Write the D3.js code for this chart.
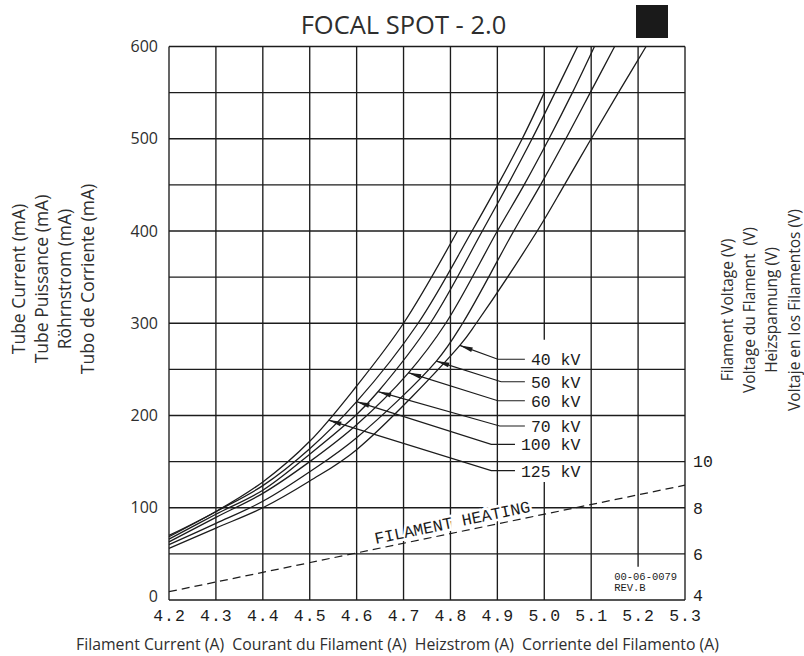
<!DOCTYPE html>
<html>
<head>
<meta charset="utf-8">
<script src="https://cdn.jsdelivr.net/npm/d3@7"></script>
<style>
  body { margin: 0; background: #fff; }
  svg { display: block; }
</style>
</head>
<body>
<div id="chart"></div>
<script>
// tube current curves, filament current (A) -> tube current (mA)
const amps125 = [4.2, 4.3, 4.4, 4.5, 4.6, 4.7, 4.815];
const ma125   = [70, 96, 128, 172, 232, 300, 400];
const amps100 = [4.2, 4.3, 4.4, 4.5, 4.6, 4.731, 4.846, 4.901, 4.953, 5.0];
const ma100   = [68.6, 95.7, 124, 164, 215, 300, 400, 450, 500, 550];
const amps70  = [4.2, 4.3, 4.4, 4.5, 4.6, 4.646, 4.757, 4.868, 4.922, 4.974, 5.023, 5.071];
const ma70    = [66, 93, 119, 158, 201, 226, 300, 400, 450, 500, 550, 600];
const amps60  = [4.2, 4.3, 4.4, 4.5, 4.6, 4.71, 4.79, 4.9, 4.957, 5.01, 5.06, 5.107];
const ma60    = [63, 89.6, 115.6, 150, 190, 246, 300, 400, 450, 500, 550, 600];
const amps50  = [4.2, 4.3, 4.4, 4.5, 4.6, 4.77, 4.826, 4.935, 4.992, 5.046, 5.098, 5.15];
const ma50    = [60, 83, 107, 139, 176, 259, 300, 400, 450, 500, 550, 600];
const amps40  = [4.2, 4.3, 4.4, 4.5, 4.6, 4.82, 4.855, 4.985, 5.043, 5.1, 5.158, 5.217];
const ma40    = [56, 78, 100, 129, 163, 276, 300, 400, 450, 500, 550, 600];

// filament heating (dashed), filament current (A) -> filament voltage (V)
const filAmps  = [4.2, 5.3];
const filVolts = [4.36, 8.98];

// leader arrows: tip on the curve, elbow, then horizontal to the label
const kvLabels = ["40 kV", "50 kV", "60 kV", "70 kV", "100 kV", "125 kV"];
const tipA     = [4.82, 4.77, 4.71, 4.646, 4.6, 4.54];
const tipMA    = [276, 259, 246.4, 225.8, 215, 195];
const elbowA   = [4.901, 4.908, 4.901, 4.905, 4.887, 4.887];
const elbowMA  = [261, 236.6, 216, 188.6, 168.8, 140.2];
const labelEndA = 5.077;

// axes
const currentTicks = [4.2, 4.3, 4.4, 4.5, 4.6, 4.7, 4.8, 4.9, 5.0, 5.1, 5.2, 5.3];
const maGrid   = [0, 50, 100, 150, 200, 250, 300, 350, 400, 450, 500, 550, 600];
const maLabels = [0, 100, 200, 300, 400, 500, 600];
const voltTicks = [4, 6, 8, 10];
// vertical grid lines broken for the labels (A, from mA, to mA)
const gapA  = [5.0, 5.2];
const gapLo = [128, 0];
const gapHi = [282, 36];

const leftTitle  = ["Tube Current (mA)", "Tube Puissance (mA)", "Röhrnstrom (mA)", "Tubo de Corriente (mA)"];
const rightTitle = ["Filament Voltage (V)", "Voltage du Flament  (V)", "Heizspannung (V)", "Voltaje en los Filamentos (V)"];
const bottomTitle = "Filament Current (A)  Courant du Filament (A)  Heizstrom (A)  Corriente del Filamento (A)";

const W = 804, H = 656;
const ink = "#1c1c1c";
const grey = "#2e2e2e";
const cad = "'Liberation Mono', 'DejaVu Sans Mono', monospace";
const sans = "'Open Sans', 'Noto Sans', sans-serif";

const svg = d3.select("#chart").append("svg").attr("width", W).attr("height", H);

const x = d3.scaleLinear().domain([4.2, 5.3]).range([169, 685]);
const y = d3.scaleLinear().domain([0, 600]).range([600, 46.5]);
const yV = d3.scaleLinear().domain([4, 10]).range([y(0), y(150)]);

// title + blacked out box
svg.append("text").attr("x", 403.5).attr("y", 34).attr("text-anchor", "middle")
  .style("font-family", sans).style("font-size", "25.5px").style("fill", grey)
  .text("FOCAL SPOT - 2.0");
svg.append("rect").attr("x", 636).attr("y", 5).attr("width", 32).attr("height", 33).attr("fill", "#1a1a1a");

// grid
const grid = svg.append("g").attr("stroke", ink).attr("stroke-width", 1.35).attr("fill", "none");
grid.selectAll("line.h").data(maGrid).enter().append("line")
  .attr("x1", x(4.2)).attr("x2", x(5.3))
  .attr("y1", d => y(d)).attr("y2", d => y(d));
currentTicks.forEach(function(a){
  let k = gapA.findIndex(g => Math.abs(g - a) < 1e-6);
  if (k < 0) {
    grid.append("line").attr("x1", x(a)).attr("x2", x(a)).attr("y1", y(0)).attr("y2", y(600));
  } else {
    if (gapLo[k] > 0)
      grid.append("line").attr("x1", x(a)).attr("x2", x(a)).attr("y1", y(0)).attr("y2", y(gapLo[k]));
    grid.append("line").attr("x1", x(a)).attr("x2", x(a)).attr("y1", y(gapHi[k])).attr("y2", y(600));
  }
});

// axis labels
const axL = svg.append("g").attr("transform", "translate(" + x(4.2) + ",0)")
  .call(d3.axisLeft(y).tickValues(maLabels).tickSize(0).tickPadding(11));
axL.select(".domain").remove();
axL.selectAll("text").style("font-family", sans).style("font-size", "16px").style("fill", grey)
  .attr("dy", d => d === 0 ? "0.1em" : "0.32em");

const axB = svg.append("g").attr("transform", "translate(0," + y(0) + ")")
  .call(d3.axisBottom(x).tickValues(currentTicks).tickFormat(d3.format(".1f")).tickSize(0));
axB.select(".domain").remove();
axB.selectAll("text").attr("y", 9.5).style("font-family", cad).style("font-size", "16.5px")
  .style("letter-spacing", "1px").style("fill", ink);

const axR = svg.append("g").attr("transform", "translate(" + x(5.3) + ",0)")
  .call(d3.axisRight(yV).tickValues(voltTicks).tickFormat(d3.format("d")).tickSize(0).tickPadding(8));
axR.select(".domain").remove();
axR.selectAll("text").style("font-family", cad).style("font-size", "16.5px").style("fill", ink)
  .attr("dy", d => d === 4 ? "0.05em" : "0.32em");

// axis titles
const lcx = [19, 42, 65, 88];
leftTitle.forEach(function(t, i){
  svg.append("text").attr("transform", "translate(" + lcx[i] + ",279) rotate(-90)")
    .attr("text-anchor", "middle").attr("dy", "0.35em")
    .style("font-family", sans).style("font-size", "17.5px").style("fill", grey).text(t);
});
const rcx = [728, 750, 772, 795];
rightTitle.forEach(function(t, i){
  svg.append("text").attr("transform", "translate(" + rcx[i] + ",310) rotate(-90)")
    .attr("text-anchor", "middle").attr("dy", "0.35em").style("white-space", "pre")
    .style("font-family", sans).style("font-size", "15.5px").style("fill", grey).text(t);
});
svg.append("text").attr("x", 397.5).attr("y", 650).attr("text-anchor", "middle")
  .style("white-space", "pre").style("font-family", sans).style("font-size", "15.8px")
  .style("fill", grey).text(bottomTitle);

// filament heating text, laid along the dashed line
const lineV = d3.scaleLinear().domain(filAmps).range(filVolts);
const ang = Math.atan2(yV(filVolts[1]) - yV(filVolts[0]), x(filAmps[1]) - x(filAmps[0])) * 180 / Math.PI;
svg.append("text")
  .attr("transform", "translate(" + x(4.643) + "," + yV(lineV(4.643)) + ") rotate(" + ang + ")")
  .attr("dy", -5)
  .style("font-family", cad).style("font-size", "16.5px").style("fill", ink)
  .attr("stroke", "#fff").attr("stroke-width", 5).attr("paint-order", "stroke")
  .text("FILAMENT HEATING");

svg.append("path")
  .datum(d3.zip(filAmps, filVolts))
  .attr("d", d3.line().x(d => x(d[0])).y(d => yV(d[1])))
  .attr("fill", "none").attr("stroke", ink).attr("stroke-width", 1.2).attr("stroke-dasharray", "8,5");

// drawing number stamp
svg.append("text").attr("x", x(5.149)).attr("y", y(21.7))
  .style("font-family", cad).style("font-size", "10.5px").style("fill", ink).text("00-06-0079");
svg.append("text").attr("x", x(5.149)).attr("y", y(10))
  .style("font-family", cad).style("font-size", "10.5px").style("fill", ink).text("REV.B");

// curves
const series = [
  [amps40, ma40], [amps50, ma50], [amps60, ma60],
  [amps70, ma70], [amps100, ma100], [amps125, ma125]
];
const line = d3.line().x(d => x(d[0])).y(d => y(d[1])).curve(d3.curveCatmullRom.alpha(0.5));
svg.append("g").selectAll("path").data(series).enter().append("path")
  .attr("d", d => line(d3.zip(d[0], d[1])))
  .attr("fill", "none").attr("stroke", ink).attr("stroke-width", 1.3);

// leaders, arrow heads and kV labels
const lead = svg.append("g");
kvLabels.forEach(function(lab, i){
  let tx = x(tipA[i]), ty = y(tipMA[i]);
  let ex = x(elbowA[i]), ey = y(elbowMA[i]);
  let t = lead.append("text").attr("x", x(labelEndA)).attr("y", ey).attr("dy", "0.36em")
    .attr("text-anchor", "end")
    .style("font-family", cad).style("font-size", "16.5px").style("fill", ink).text(lab);
  let startX = x(labelEndA) - t.node().getComputedTextLength();
  lead.append("polyline")
    .attr("points", [[tx, ty], [ex, ey], [startX - 6, ey]].map(p => p.join(",")).join(" "))
    .attr("fill", "none").attr("stroke", ink).attr("stroke-width", 1.2);
  let len = Math.hypot(ex - tx, ey - ty), ux = (ex - tx) / len, uy = (ey - ty) / len;
  let bx = tx + ux * 13, by = ty + uy * 13;
  lead.append("polygon")
    .attr("points", [[tx, ty], [bx - uy * 2.4, by + ux * 2.4], [bx + uy * 2.4, by - ux * 2.4]].map(p => p.join(",")).join(" "))
    .attr("fill", ink);
});
</script>
</body>
</html>
